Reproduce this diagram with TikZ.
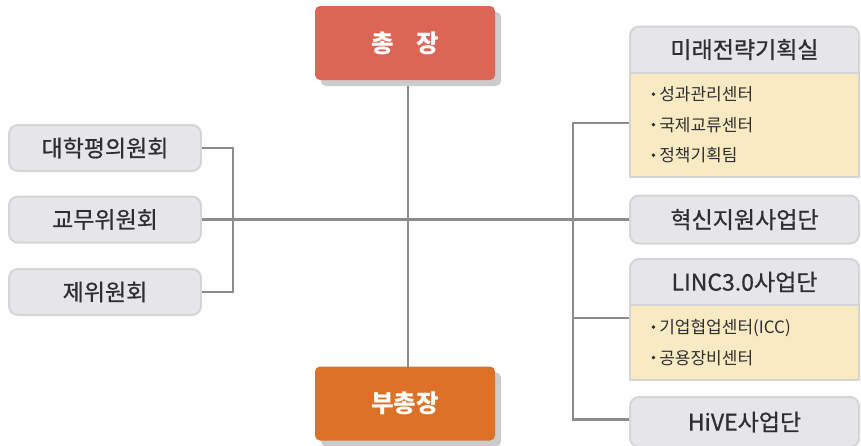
\documentclass[tikz,border=0pt]{standalone}
\usepackage{fontspec}
\setmainfont{Noto Sans CJK KR}
\newfontfamily\medfont{Noto Sans CJK KR}[FakeBold=0.7]
\usetikzlibrary{positioning,shadows}

\definecolor{chongred}{HTML}{DC6656}
\definecolor{buorange}{HTML}{DD7128}
\definecolor{boxgray}{HTML}{E6E6E8}
\definecolor{edgegray}{HTML}{D5D5D7}
\definecolor{bodyyellow}{HTML}{F8EBC4}
\definecolor{linkgray}{HTML}{8C8C8E}
\definecolor{txtgray}{HTML}{2E2E30}

\newcommand{\itm}{\raisebox{.28em}{\tikz\fill[txtgray] (0,0) circle (1.9pt);}\hspace{4pt}}

\begin{document}
\begin{tikzpicture}[x=1pt, y=-1pt,
	head/.style={rectangle, rounded corners=5pt, minimum width=180pt, minimum height=74pt, text=white,
		font=\fontsize{24.5}{28}\selectfont\bfseries,
		drop shadow={shadow xshift=6pt, shadow yshift=-6pt, fill=black!20, opacity=1}},
	sidebox/.style={rectangle, rounded corners=9pt, draw=edgegray, line width=2pt, fill=boxgray,
		minimum width=192pt, minimum height=46pt, text=txtgray, font=\medfont\fontsize{23}{27}\selectfont},
	unitbox/.style={rectangle, rounded corners=9pt, draw=edgegray, line width=2pt, fill=boxgray,
		minimum width=229pt, minimum height=46pt, text=txtgray, font=\medfont\fontsize{23}{27}\selectfont},
	bodybox/.style={rectangle, draw=edgegray, line width=2pt, fill=bodyyellow, minimum width=229pt,
		text width=186pt, align=left, text=txtgray, font=\fontsize{17}{30.5}\selectfont},
	link/.style={draw=linkgray, line width=2.6pt}]
\useasboundingbox (0,0) rectangle (861,445);
\clip (0,0) rectangle (861,445);

% centre
\coordinate (hub) at (408,219.5);
\draw[link] (hub |- 0,60) -- (hub |- 0,390);
\node[head, fill=chongred] (chong) at (405,43) {총\hspace{0.9em}장};
\node[head, fill=buorange] (buchong) at (405,403.5) {부총장};

% left committees
\node[sidebox] (pyeong) at (105,148) {대학평의원회};
\node[sidebox] (gyomu) at (105,219.5) {교무위원회};
\node[sidebox] (je) at (105,292) {제위원회};
\coordinate (lbar) at (233,0);
\draw[link] (pyeong.east) -| (lbar |- je.east) -- (je.east);
\draw[link] (gyomu.east) -- (hub);

% right units
\node[unitbox, minimum height=54pt] (mirae) at (744.5,53.5) {};
\node[bodybox, minimum height=104pt] (miraebody) at (744.5,125) {\itm 성과관리센터\\ \itm 국제교류센터\\ \itm 정책기획팀};
\node[text=txtgray, font=\medfont\fontsize{23}{27}\selectfont] at (744.5,49.5) {미래전략기획실};
\node[unitbox, minimum height=48pt] (hyeoksin) at (744.5,219.5) {혁신지원사업단};
\node[unitbox, minimum height=53pt] (linc) at (744.5,285.5) {};
\node[bodybox, minimum height=75pt] (lincbody) at (744.5,342.5) {\itm 기업협업센터(ICC)\\ \itm 공용장비센터};
\node[text=txtgray, font=\medfont\fontsize{23}{27}\selectfont] at (744.5,282) {LINC3.0사업단};
\node[unitbox, minimum height=50pt] (hive) at (744.5,422) {HiVE사업단};

\draw[link] (hub) -- (hyeoksin.west);
\coordinate (rtop) at (573,123);
\coordinate (rmid) at (573,318);
\coordinate (rbot) at (573,419.5);
\draw[link] (rtop -| miraebody.west) -- (rtop) -- (rbot) -- (rbot -| hive.west);
\draw[link] (rmid) -- (rmid -| lincbody.west);
\end{tikzpicture}
\end{document}
